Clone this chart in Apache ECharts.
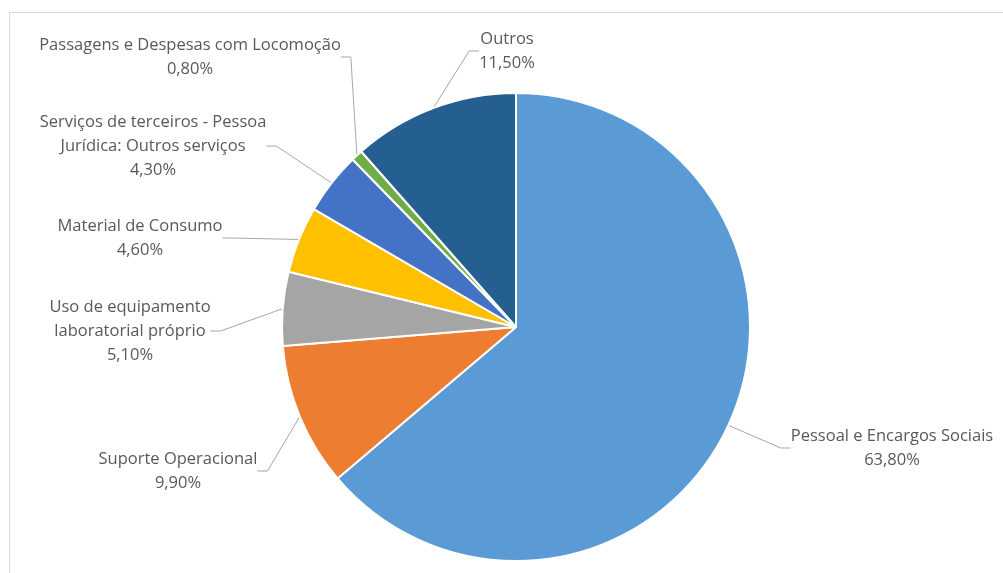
<!DOCTYPE html>
<html><head><meta charset="utf-8">
<script src="https://cdn.jsdelivr.net/npm/echarts@6/dist/echarts.min.js"></script>
<style>html,body{margin:0;padding:0;background:#fff}#c{width:1003px;height:573px}</style>
</head><body><div id="c"></div>
<script>
const categories = [
  'Pessoal e Encargos Sociais',
  'Suporte Operacional',
  'Uso de equipamento\nlaboratorial próprio',
  'Material de Consumo',
  'Serviços de terceiros - Pessoa\nJurídica: Outros serviços',
  'Passagens e Despesas com Locomoção',
  'Outros'
];
const values = [63.8, 9.9, 5.1, 4.6, 4.3, 0.8, 11.5];
const colors = ['#5B9BD5', '#ED7D31', '#A5A5A5', '#FFC000', '#4472C4', '#70AD47', '#255E91'];
// label anchor points (center of each label block)
const labelSpots = [[892, 448], [178, 471], [130, 331], [140, 238], [153, 146], [190, 57], [507, 51]];

const chart = echarts.init(document.getElementById('c'));
chart.setOption({
  animation: false,
  graphic: [{
    type: 'rect', left: 7, top: 10, shape: { width: 1010, height: 600 },
    style: { fill: 'none', stroke: '#d9d9d9', lineWidth: 1 }, silent: true
  }],
  series: [{
    type: 'pie',
    center: [516, 327],
    radius: 234,
    startAngle: 90,
    clockwise: true,
    itemStyle: { borderColor: '#fff', borderWidth: 2 },
    data: categories.map((n, i) => ({ name: n, value: values[i], itemStyle: { color: colors[i] } })),
    label: {
      show: true,
      formatter: p => p.name + '\n' + p.value.toFixed(2).replace('.', ',') + '%',
      color: '#595959',
      fontFamily: 'Open Sans',
      fontSize: 16.5,
      lineHeight: 24,
      align: 'center'
    },
    labelLine: { show: true, length: 15, length2: 10, lineStyle: { color: '#a6a6a6', width: 1 } },
    labelLayout: params => {
      const s = labelSpots[params.dataIndex];
      return { x: s[0], y: s[1], align: 'center', verticalAlign: 'middle' };
    }
  }]
});
</script></body></html>
